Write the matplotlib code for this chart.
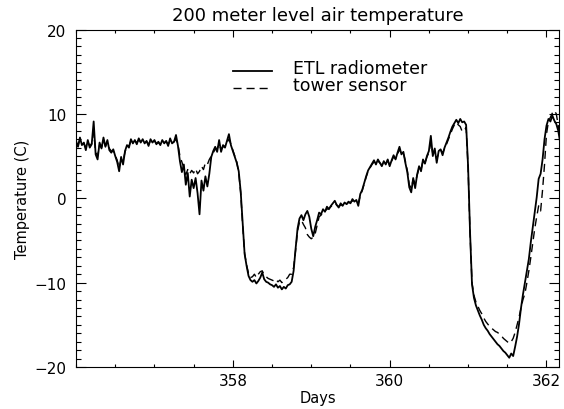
import numpy as np
import matplotlib
matplotlib.use("Agg")
import matplotlib.pyplot as plt
from matplotlib.ticker import MultipleLocator, FixedLocator
from matplotlib.lines import Line2D

# Sampling of both records: one value every 0.025 day starting at day 356
START_DAY = 356.0
STEP_DAY = 0.025

# 200 m air temperature (deg C) retrieved by the ETL radiometer
etl_radiometer = [
    6.8, 6.1, 7.2, 6.3, 6.6, 5.7, 6.9, 6.0, 6.4, 9.1,
    5.2, 4.6, 6.6, 5.9, 7.2, 6.1, 6.9, 5.7, 5.4, 5.8,
    5.0, 4.3, 3.2, 4.9, 4.0, 5.6, 6.3, 6.0, 7.0, 6.5,
    6.9, 6.4, 7.1, 6.6, 7.0, 6.5, 6.8, 6.2, 7.0, 6.6,
    6.9, 6.4, 6.7, 6.3, 6.9, 6.5, 6.8, 6.2, 7.1, 6.5,
    6.7, 7.5, 6.2, 4.4, 3.1, 4.0, 1.6, 3.0, 0.2, 2.2,
    1.2, 2.4, 0.6, -1.9, 2.1, 0.9, 2.6, 1.4, 2.9, 4.9,
    5.6, 6.1, 5.5, 6.9, 5.5, 6.3, 6.0, 6.8, 7.6, 6.3,
    5.6, 4.9, 4.2, 3.2, 0.8, -3.0, -6.6, -8.0, -9.2, -9.7,
    -9.9, -9.7, -10.1, -9.8, -9.4, -8.8, -9.6, -9.9, -10.0, -10.2,
    -10.3, -10.5, -10.2, -10.6, -10.4, -10.8, -10.5, -10.7, -10.3, -10.2,
    -9.9, -8.6, -6.0, -3.6, -2.4, -2.0, -2.6, -1.9, -1.5, -2.2,
    -3.6, -4.5, -3.4, -2.6, -1.7, -1.9, -1.3, -1.6, -1.0, -1.3,
    -0.9, -0.6, -0.3, -0.8, -1.1, -0.6, -0.9, -0.5, -0.7, -0.4,
    -0.6, -0.1, -0.4, -0.2, -0.9, 0.5, 1.0, 1.8, 2.6, 3.3,
    3.7, 4.1, 4.5, 4.0, 4.6, 4.2, 3.8, 4.4, 4.0, 4.6,
    3.8, 4.5, 5.1, 4.6, 5.4, 6.1, 5.2, 5.5, 4.2, 3.1,
    1.3, 0.7, 2.4, 1.2, 2.8, 3.8, 3.2, 4.6, 4.1, 5.0,
    5.6, 7.4, 5.0, 5.9, 4.2, 5.6, 5.8, 5.1, 6.0, 6.6,
    7.2, 7.9, 8.5, 8.9, 9.3, 8.9, 9.4, 9.0, 9.1, 8.7,
    3.8, -4.0, -10.2, -11.8, -12.7, -13.3, -13.9, -14.4, -15.0, -15.4,
    -15.7, -16.1, -16.4, -16.7, -17.0, -17.3, -17.5, -17.8, -18.1, -18.3,
    -18.6, -18.9, -18.4, -18.7, -17.6, -16.4, -14.9, -13.0, -11.4, -10.0,
    -8.6, -7.2, -5.2, -3.4, -1.5, 0.1, 2.3, 2.9, 4.6, 7.0,
    8.6, 9.4, 9.1, 9.8, 9.2, 8.8, 8.0, 6.6,
]

# 200 m air temperature (deg C) from the tower sensor
tower_sensor = [
    6.5, 6.3, 6.9, 6.4, 6.5, 6.0, 6.7, 6.2, 6.5, 7.8,
    5.5, 5.0, 6.3, 6.0, 6.8, 6.2, 6.6, 5.9, 5.6, 5.6,
    5.1, 4.5, 3.6, 4.6, 4.4, 5.5, 6.2, 6.2, 6.8, 6.6,
    6.8, 6.6, 6.9, 6.7, 6.9, 6.6, 6.7, 6.4, 6.8, 6.7,
    6.8, 6.5, 6.6, 6.4, 6.7, 6.6, 6.7, 6.4, 6.8, 6.6,
    6.7, 7.0, 6.4, 5.0, 4.3, 3.6, 2.8, 3.4, 2.9, 3.3,
    3.0, 3.5, 2.9, 3.2, 3.8, 3.4, 4.2, 4.0, 4.6, 5.0,
    5.4, 5.8, 5.9, 6.4, 5.8, 6.1, 6.2, 6.6, 7.0, 6.4,
    5.7, 5.0, 4.3, 3.0, 0.6, -3.2, -6.5, -7.9, -8.9, -9.4,
    -9.3, -9.0, -9.4, -9.0, -8.7, -8.6, -9.1, -9.3, -9.5, -9.6,
    -9.7, -9.8, -9.6, -9.9, -9.7, -10.0, -9.8, -9.6, -9.4, -9.0,
    -9.0, -8.2, -6.2, -3.9, -2.8, -2.6, -3.1, -3.5, -4.3, -4.6,
    -4.8, -4.6, -4.2, -3.2, -2.2, -2.0, -1.7, -1.5, -1.3, -1.2,
    -1.0, -0.8, -0.6, -0.8, -1.0, -0.8, -0.8, -0.6, -0.7, -0.5,
    -0.5, -0.3, -0.4, -0.3, -0.6, 0.3, 0.9, 1.7, 2.5, 3.2,
    3.6, 4.0, 4.3, 4.1, 4.4, 4.2, 3.9, 4.3, 4.1, 4.5,
    3.9, 4.4, 4.9, 4.7, 5.2, 5.8, 5.3, 5.4, 4.4, 3.3,
    1.6, 1.2, 2.2, 1.8, 2.7, 3.6, 3.4, 4.4, 4.2, 4.9,
    5.4, 6.6, 5.3, 5.6, 4.6, 5.4, 5.7, 5.4, 5.9, 6.4,
    7.0, 7.6, 8.2, 8.7, 9.0, 8.7, 8.5, 7.9, 8.0, 8.4,
    3.6, -4.2, -10.0, -11.5, -12.3, -12.8, -13.3, -13.7, -14.2, -14.6,
    -14.9, -15.2, -15.4, -15.6, -15.8, -15.9, -16.1, -16.3, -16.6, -16.8,
    -17.0, -17.2, -17.0, -16.6, -15.9, -15.0, -14.1, -13.0, -12.0, -11.3,
    -10.0, -8.6, -7.0, -5.3, -3.6, -2.2, -0.9, -1.5, 1.0, 4.0,
    7.6, 9.1, 9.6, 10.1, 10.4, 10.0, 8.6, 7.0,
]

day_ticks = [358, 360, 362]
temp_ticks = [-20, -10, 0, 10, 20]
series_labels = ["ETL radiometer", "tower sensor"]

days = START_DAY + STEP_DAY * np.arange(len(etl_radiometer))

plt.rcParams["font.family"] = ["DejaVu Sans"]

DASH = (0, (5.8, 3.6))

fig = plt.figure(figsize=(5.64, 4.10), dpi=100)
ax = fig.add_axes([0.1348, 0.1024, 0.8564, 0.8232])

ax.plot(days, tower_sensor, color="black", lw=1.0, linestyle=DASH)
ax.plot(days, etl_radiometer, color="black", lw=1.3, solid_joinstyle="round")

ax.set_xlim(356.0, 362.16)
ax.set_ylim(-20, 20)

ax.xaxis.set_major_locator(FixedLocator(day_ticks))
ax.xaxis.set_minor_locator(MultipleLocator(0.5))
ax.yaxis.set_major_locator(FixedLocator(temp_ticks))
ax.yaxis.set_minor_locator(MultipleLocator(1))

ax.tick_params(which="both", direction="in", top=True, right=True,
               width=0.8, colors="black")
ax.tick_params(axis="x", which="major", length=5.0, labelsize=11, pad=4.5)
ax.tick_params(axis="x", which="minor", length=2.5)
ax.tick_params(axis="y", which="major", length=7.0, labelsize=11, pad=7)
ax.tick_params(axis="y", which="minor", length=3.5)

for spine in ax.spines.values():
    spine.set_linewidth(0.8)

ax.set_xlabel("Days", fontsize=10.5, labelpad=1)
ax.set_ylabel("Temperature (C)", fontsize=10.5, labelpad=3)
ax.set_title("200 meter level air temperature", fontsize=13, pad=7)

# Key: line samples with their labels, placed in axes fractions
key_styles = [dict(lw=1.3, linestyle="-"), dict(lw=1.0, linestyle=DASH)]
key_line_y = [0.877, 0.826]
key_text_y = [0.8726, 0.8207]
for label, style, ly, ty in zip(series_labels, key_styles, key_line_y, key_text_y):
    ax.add_line(Line2D([0.325, 0.406], [ly, ly], transform=ax.transAxes,
                       color="black", **style))
    ax.text(0.449, ty, label, transform=ax.transAxes, fontsize=12.5,
            ha="left", va="baseline", color="black")

fig.savefig("out.png", dpi=100)
